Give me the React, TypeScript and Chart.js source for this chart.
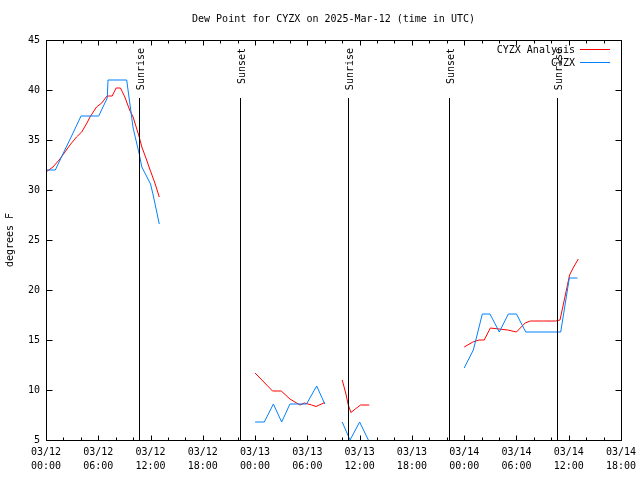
import React, { useEffect, useRef } from 'react';
import { Chart, registerables } from 'chart.js';

Chart.register(...registerables);

const TITLE = 'Dew Point for CYZX on 2025-Mar-12 (time in UTC)';
const Y_TITLE = 'degrees F';

// x axis: hours since 03/12 00:00 UTC
const xTickLabels: string[][] = [
  ['03/12', '00:00'], ['03/12', '06:00'], ['03/12', '12:00'], ['03/12', '18:00'],
  ['03/13', '00:00'], ['03/13', '06:00'], ['03/13', '12:00'], ['03/13', '18:00'],
  ['03/14', '00:00'], ['03/14', '06:00'], ['03/14', '12:00'], ['03/14', '18:00'],
];

const seriesNames = ['CYZX Analysis', 'CYZX'];

// CYZX Analysis (null = gap)
const analysisHours = [
  0, 0.8, 1.6, 2.75, 3.5, 4.1, 4.7, 5.05, 5.8, 6.4, 7.0, 7.6, 8.05, 8.55, 9.05, 9.6, 10.0, 10.7, 11.0, 11.55, 11.95, 12.5, 13.0,
  18,
  24, 26, 27, 28, 29.15, 29.65, 30.5, 31.0, 32.0,
  33,
  34, 34.4, 34.7, 35.0, 35.5, 36.1, 37.1,
  42,
  48, 49, 49.7, 50.3, 51, 52, 53, 54, 55, 55.6, 56, 57, 58, 58.5, 59, 60.1, 60.5, 61.1,
];
const analysisDewF = [
  31.8, 32.3, 33.1, 34.5, 35.3, 35.8, 36.7, 37.3, 38.3, 38.7, 39.4, 39.4, 40.2, 40.2, 39.3, 38.0, 37.3, 35.3, 34.3, 33.0, 32.0, 30.7, 29.3,
  null,
  11.7, 9.9, 9.9, 9.1, 8.5, 8.7, 8.5, 8.35, 8.75,
  null,
  11.0, 9.7, 8.5, 7.75, 8.1, 8.5, 8.5,
  null,
  14.3, 14.8, 15.0, 15.0, 16.2, 16.1, 16.0, 15.8, 16.7, 16.9, 16.9, 16.9, 16.9, 16.9, 17.0, 21.5, 22.2, 23.1,
];

// CYZX observations (null = gap)
const obsHours = [
  0.08, 1.07, 2.05, 3.05, 4.02, 6.05, 7.03, 7.12, 9.26, 10.0, 10.7, 11.0, 12.0, 12.3, 13.0,
  18,
  24, 25.06, 26.1, 27.05, 28, 29.9, 31.07, 32,
  33,
  34, 34.9, 36, 37,
  42,
  48, 49.05, 50.08, 50.96, 52.03, 53.07, 54, 55.06, 59.08, 60.07, 61,
];
const obsDewF = [
  32.0, 32.0, 33.8, 35.6, 37.4, 37.4, 39.2, 41.0, 41.0, 36.2, 33.6, 32.3, 30.6, 29.5, 26.6,
  null,
  6.8, 6.8, 8.6, 6.8, 8.6, 8.6, 10.4, 8.6,
  null,
  6.8, 5.0, 6.8, 5.0,
  null,
  12.2, 14.0, 17.6, 17.6, 15.8, 17.6, 17.6, 15.8, 15.8, 21.2, 21.2,
];

const sunEventHours = [10.67, 22.27, 34.66, 46.26, 58.65];
const sunEventLabels = ['Sunrise', 'Sunset', 'Sunrise', 'Sunset', 'Sunrise'];

const FONT = '10px "DejaVu Sans Mono", monospace';
const RED = '#ff0000';
const BLUE = '#0080ff';

const toPoints = (hs: number[], vs: (number | null)[]) => hs.map((h, i) => ({ x: h, y: vs[i] }));

const overlay = {
  id: 'overlay',
  afterDatasetsDraw(chart: any) {
    const { ctx, chartArea: a, scales } = chart;
    const x = scales.x;
    const y = scales.y;
    ctx.save();
    ctx.strokeStyle = '#000';
    ctx.lineWidth = 1;
    ctx.font = FONT;
    ctx.fillStyle = '#000';
    // sunrise / sunset lines
    const lineTop = y.getPixelForValue(39.2);
    sunEventHours.forEach((h, i) => {
      const px = Math.round(x.getPixelForValue(h)) + 0.5;
      ctx.beginPath();
      ctx.moveTo(px, lineTop);
      ctx.lineTo(px, a.bottom);
      ctx.stroke();
      ctx.save();
      ctx.translate(px + 1.5, a.top + 8);
      ctx.rotate(-Math.PI / 2);
      ctx.textAlign = 'right';
      ctx.textBaseline = 'middle';
      ctx.fillText(sunEventLabels[i], 0, 0);
      ctx.restore();
    });
    ctx.restore();
  },
  afterDraw(chart: any) {
    const { ctx, chartArea: a, scales } = chart;
    const x = scales.x;
    const y = scales.y;
    ctx.save();
    ctx.strokeStyle = '#000';
    ctx.lineWidth = 1;
    const L = Math.round(a.left) + 0.5;
    const R = Math.round(a.right) + 0.5;
    const T = Math.round(a.top) + 0.5;
    const B = Math.round(a.bottom) + 0.5;
    ctx.strokeRect(L, T, R - L, B - T);
    ctx.beginPath();
    // y ticks (left and right, inward)
    for (let v = y.min; v <= y.max; v += 5) {
      const py = Math.round(y.getPixelForValue(v)) + 0.5;
      ctx.moveTo(L, py); ctx.lineTo(L + 6, py);
      ctx.moveTo(R, py); ctx.lineTo(R - 6, py);
    }
    // x ticks (bottom and top, inward), major 6h, minor 2h
    for (let h = x.min; h <= x.max; h += 2) {
      const len = h % 6 === 0 ? 5 : 3;
      const px = Math.round(x.getPixelForValue(h)) + 0.5;
      ctx.moveTo(px, B); ctx.lineTo(px, B - len);
      ctx.moveTo(px, T); ctx.lineTo(px, T + len);
    }
    ctx.stroke();

    ctx.font = FONT;
    ctx.fillStyle = '#000';
    // title
    ctx.textAlign = 'center';
    ctx.textBaseline = 'middle';
    ctx.fillText(TITLE, (a.left + a.right) / 2, 19);
    // y title
    ctx.save();
    ctx.translate(10, (a.top + a.bottom) / 2);
    ctx.rotate(-Math.PI / 2);
    ctx.fillText(Y_TITLE, 0, 0);
    ctx.restore();
    // legend
    const colors = [RED, BLUE];
    seriesNames.forEach((name, i) => {
      const ly = 49.5 + i * 13;
      ctx.textAlign = 'right';
      ctx.fillStyle = '#000';
      ctx.fillText(name, 575, ly + 0.5);
      ctx.strokeStyle = colors[i];
      ctx.beginPath();
      ctx.moveTo(580, ly);
      ctx.lineTo(610, ly);
      ctx.stroke();
    });
    ctx.restore();
  },
};

export default function App() {
  const ref = useRef<HTMLCanvasElement>(null);
  useEffect(() => {
    if (!ref.current) return;
    const chart = new Chart(ref.current, {
      type: 'line',
      data: {
        datasets: [
          {
            label: seriesNames[1],
            data: toPoints(obsHours, obsDewF) as any,
            borderColor: BLUE,
            borderWidth: 1,
            pointRadius: 0,
            spanGaps: false,
            tension: 0,
          },
          {
            label: seriesNames[0],
            data: toPoints(analysisHours, analysisDewF) as any,
            borderColor: RED,
            borderWidth: 1,
            pointRadius: 0,
            spanGaps: false,
            tension: 0,
          },
        ],
      },
      options: {
        responsive: false,
        animation: false,
        devicePixelRatio: 1,
        layout: { padding: { top: 40, right: 19, bottom: 0, left: 0 } },
        plugins: {
          legend: { display: false },
          title: { display: false },
          tooltip: { enabled: false },
        },
        scales: {
          x: {
            type: 'linear',
            min: 0,
            max: 66,
            grid: { display: false, drawTicks: false },
            border: { display: false },
            ticks: {
              stepSize: 6,
              padding: 5,
              maxRotation: 0,
              autoSkip: false,
              color: '#000',
              font: { family: '"DejaVu Sans Mono", monospace', size: 10, lineHeight: 1.4 },
              callback: (_v: any, i: number) => xTickLabels[i],
            },
            afterFit: (s: any) => {
              s.height = 40;
              s.paddingLeft = 0;
              s.paddingRight = 0;
            },
          },
          y: {
            type: 'linear',
            min: 5,
            max: 45,
            grid: { display: false, drawTicks: false },
            border: { display: false },
            ticks: {
              stepSize: 5,
              padding: 6,
              color: '#000',
              font: { family: '"DejaVu Sans Mono", monospace', size: 10 },
            },
            afterFit: (s: any) => {
              s.width = 46;
              s.paddingTop = 0;
              s.paddingBottom = 0;
            },
          },
        },
      },
      plugins: [overlay],
    });
    return () => chart.destroy();
  }, []);
  return (
    <div style={{ position: 'fixed', left: 0, top: 0, width: 640, height: 480, background: '#fff' }}>
      <canvas ref={ref} width={640} height={480} style={{ width: 640, height: 480, display: 'block' }} />
    </div>
  );
}
